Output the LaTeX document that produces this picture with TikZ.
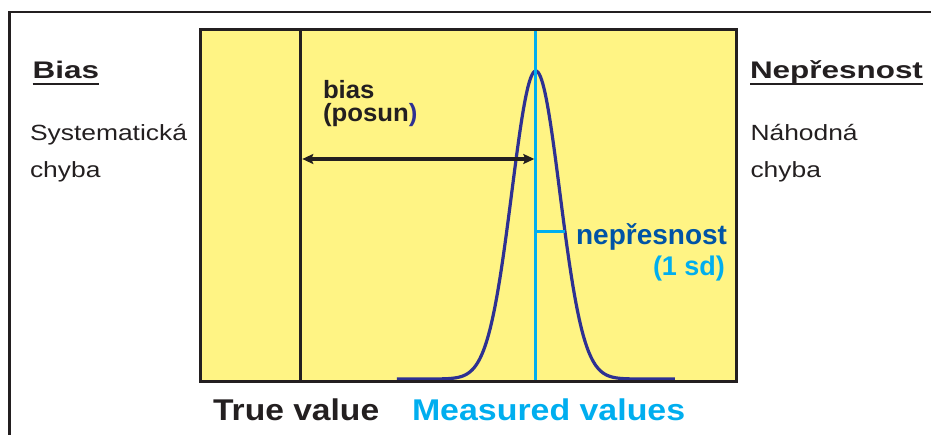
\documentclass[tikz,border=0pt]{standalone}
\usepackage{fontspec}
\setmainfont{Liberation Sans}
\usetikzlibrary{arrows.meta}
\definecolor{boxyellow}{HTML}{FFF484}
\definecolor{darkline}{HTML}{231F20}
\definecolor{navy}{HTML}{2E3192}
\definecolor{textblue}{HTML}{0054A6}
\definecolor{cyanline}{HTML}{00AEEF}
\tikzset{
  lbl/.style={inner sep=0pt, outer sep=0pt, text=darkline},
  frameline/.style={draw=darkline, line width=2.3pt},
  vline/.style={line width=3pt},
}
\newcommand{\headtxt}[1]{{\fontsize{24}{28}\selectfont\bfseries\scalebox{1.31}[1]{#1}}}
\newcommand{\sidetxt}[1]{{\fontsize{22}{26}\selectfont\scalebox{1.2}[1]{#1}}}
\begin{document}
\begin{tikzpicture}[x=1pt,y=-1pt]
\useasboundingbox (0,0) rectangle (931,435);
% outer frame
\coordinate (fb) at (9.5,435);
\coordinate (ftl) at (9.5,12);
\coordinate (ftr) at (931,12);
\draw[frameline, line cap=rect] (fb) -- (ftl) -- (ftr);
% yellow box
\coordinate (boxtl) at (200.5,30);
\coordinate (boxbr) at (736.5,381.5);
\fill[boxyellow] (boxtl) rectangle (boxbr);
% gaussian curve
\draw[navy, line width=3.2pt, line join=round]
  plot[domain=-139:139, samples=241, smooth] ({535.8+\x},{379-308*exp(-0.5*(\x/24)^2)});
% vertical lines
\coordinate (tvtop) at (300.7,30);
\coordinate (tvbot) at (300.7,381.5);
\draw[vline, darkline] (tvtop) -- (tvbot);
\coordinate (mvtop) at (535.8,30);
\coordinate (mvbot) at (535.8,381.5);
\draw[vline, cyanline] (mvtop) -- (mvbot);
% sd tick
\coordinate (sdl) at (535.8,231.7);
\coordinate (sdr) at (565,231.7);
\draw[cyanline, line width=2.5pt] (sdl) -- (sdr);
% bias arrow
\coordinate (arl) at (302.3,159);
\coordinate (arr) at (534.3,159);
\draw[darkline, line width=3.5pt, {Stealth[length=11pt,width=10pt,inset=2pt]}-{Stealth[length=11pt,width=10pt,inset=2pt]}] (arl) -- (arr);
% box border on top
\draw[darkline, line width=3pt] (boxtl) rectangle (boxbr);
% left column
\node[lbl, anchor=base west] (biash) at (32.7,78.3) {\headtxt{Bias}};
\draw[darkline, line width=2pt] ([yshift=-6pt]biash.base west) -- ([yshift=-6pt]biash.base east);
\node[lbl, anchor=base west] (sys1) at (30,141) {\sidetxt{Systematická}};
\node[lbl, anchor=base west] (sys2) at (30,178) {\sidetxt{chyba}};
% right column
\node[lbl, anchor=base west] (nepr) at (750,78.3) {\headtxt{Nepřesnost}};
\draw[darkline, line width=2pt] ([yshift=-6pt]nepr.base west) -- ([yshift=-6pt]nepr.base east);
\node[lbl, anchor=base west] (nah1) at (750.5,141) {\sidetxt{Náhodná}};
\node[lbl, anchor=base west] (nah2) at (750.5,178) {\sidetxt{chyba}};
% bias label
\node[lbl, anchor=base west] (bias1) at (323,99) {\fontsize{25}{29}\selectfont\bfseries\scalebox{1.03}[1]{bias}};
\node[lbl, anchor=base west] (bias2) at (323,122) {\fontsize{25}{29}\selectfont\bfseries\scalebox{1.03}[1]{(posun\textcolor{navy}{)}}};
% sd label
\node[lbl, anchor=base east, text=textblue] (neps) at (727,244.3) {\fontsize{28}{32}\selectfont\bfseries nepřesnost};
\node[lbl, anchor=base east, text=cyanline] (onesd) at (725,276) {\fontsize{27}{31}\selectfont\bfseries (1 sd)};
% bottom labels
\node[lbl, anchor=base west] (tv) at (213,420) {\fontsize{30}{34}\selectfont\bfseries\scalebox{1.12}[1]{True value}};
\node[lbl, anchor=base west, text=cyanline] (mv) at (412,420) {\fontsize{30}{34}\selectfont\bfseries\scalebox{1.13}[1]{Measured values}};
\end{tikzpicture}
\end{document}
